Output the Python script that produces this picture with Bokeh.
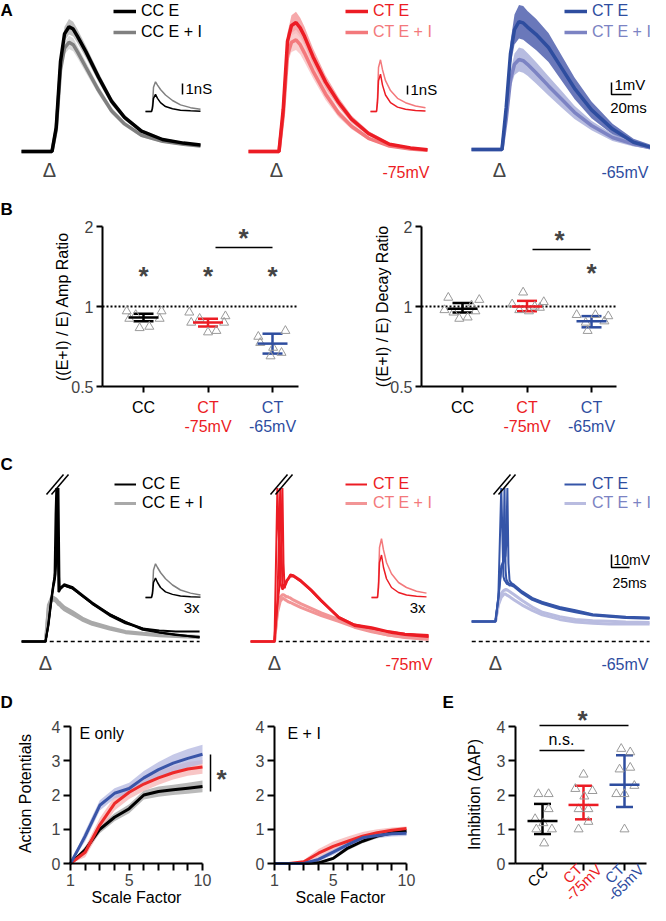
import numpy as np
from bokeh.plotting import figure
from bokeh.models import (Range1d, Label, Legend, LegendItem, Whisker, TeeHead,
                          FixedTicker, ColumnDataSource)
from bokeh.layouts import column, row
from bokeh.embed import file_html
from bokeh.resources import INLINE
from bokeh.core.properties import value

FONT = "Liberation Sans"
BLACK = "#000000"
GREY = "#808080"
RED = "#ec1c24"
LRED = "#f3797c"
BLUE = "#2e4d9f"
LBLUE = "#7c83c3"
TRI = "#9a9a9a"

# ---------------- DATA ----------------
# Panel A: averaged PSPs (ms, mV) with SEM
tA = [-28, 0, 2.5, 6.7, 11, 15, 19.5, 23.7, 28, 36.5, 49, 62, 75, 92, 113, 134, 151]
cc_e = [0, 0, 0, 2.0, 7.5, 9.8, 10.4, 10.2, 9.6, 8.3, 6.2, 4.2, 2.85, 1.7, 1.0, 0.7, 0.55]
cc_e_sem = [0, 0, 0, 0.2, 0.45, 0.6, 0.65, 0.62, 0.58, 0.5, 0.4, 0.3, 0.22, 0.16, 0.12, 0.1, 0.08]
cc_ei = [0, 0, 0, 1.8, 6.8, 8.6, 9.1, 8.9, 8.3, 7.0, 5.1, 3.4, 2.3, 1.35, 0.85, 0.6, 0.45]
cc_ei_sem = [0, 0, 0, 0.2, 0.4, 0.5, 0.55, 0.55, 0.5, 0.45, 0.35, 0.28, 0.2, 0.15, 0.12, 0.1, 0.08]
ct75_e = [0, 0, 0, 3.5, 9.2, 10.5, 10.75, 10.3, 9.6, 7.9, 5.8, 4.1, 2.7, 1.5, 0.6, 0.3, 0.15]
ct75_e_sem = [0, 0, 0, 0.35, 0.7, 0.85, 0.9, 0.85, 0.8, 0.7, 0.55, 0.42, 0.3, 0.2, 0.12, 0.08, 0.06]
ct75_ei = [0, 0, 0, 3.0, 8.0, 9.1, 9.3, 8.9, 8.2, 6.7, 4.8, 3.2, 2.1, 1.1, 0.45, 0.2, 0.1]
ct75_ei_sem = [0, 0, 0, 0.3, 0.6, 0.8, 0.85, 0.8, 0.75, 0.6, 0.5, 0.35, 0.25, 0.15, 0.1, 0.08, 0.06]
ct65_e = [0, 0, 0, 3.5, 8.0, 10.0, 10.65, 10.55, 10.2, 9.6, 8.5, 6.8, 5.1, 3.3, 1.7, 0.6, 0.2]
ct65_e_sem = [0, 0, 0, 0.4, 1.0, 1.25, 1.4, 1.4, 1.35, 1.3, 1.2, 1.05, 0.9, 0.7, 0.45, 0.3, 0.2]
ct65_ei = [0, 0, 0, 2.5, 5.8, 7.1, 7.5, 7.4, 7.1, 6.4, 5.3, 4.2, 3.1, 2.0, 1.0, 0.45, 0.2]
ct65_ei_sem = [0, 0, 0, 0.3, 0.7, 0.9, 1.0, 1.0, 0.95, 0.9, 0.8, 0.7, 0.55, 0.4, 0.3, 0.2, 0.15]

# Inset conductances (ms, nS)
t_in = [0, 6, 7, 8, 10, 12, 15, 20, 27, 35, 45, 55]
g_cc_e = [0, 0, 0.3, 1.2, 1.55, 1.2, 0.8, 0.45, 0.25, 0.12, 0.06, 0.03]
g_cc_ei = [0, 0, 0.5, 2.2, 2.7, 2.4, 2.0, 1.5, 1.0, 0.6, 0.35, 0.2]
g_ct_e = [0, 0, 0.8, 2.8, 3.4, 2.4, 1.5, 0.8, 0.4, 0.2, 0.1, 0.05]
g_ct_ei = [0, 0, 1.2, 4.0, 4.7, 3.8, 2.8, 1.9, 1.2, 0.8, 0.5, 0.35]

# Panel B: ratios
amp_cc = [0.96, 0.90, 0.83, 0.84, 0.90, 0.96, 0.93]
amp_cc_dx = [-0.26, -0.22, -0.06, 0.09, 0.25, 0.28, -0.12]
amp_ct75 = [0.95, 0.87, 0.80, 0.81, 0.87, 0.92, 0.90]
amp_ct75_dx = [-0.29, -0.26, 0.0, 0.13, 0.25, 0.27, -0.13]
amp_ct65 = [0.77, 0.73, 0.70, 0.65, 0.67, 0.81]
amp_ct65_dx = [-0.22, -0.19, 0.01, -0.03, 0.14, 0.2]
amp_mean = [0.91, 0.87, 0.725]
amp_lo = [0.88, 0.84, 0.665]
amp_hi = [0.94, 0.90, 0.79]

dec_cc = [1.08, 0.97, 0.95, 0.90, 0.91, 0.96, 1.06, 1.01]
dec_cc_dx = [-0.22, -0.28, -0.14, -0.05, 0.08, 0.2, 0.26, 0.14]
dec_ct75 = [1.13, 1.02, 0.97, 0.96, 0.99, 1.04, 1.0]
dec_ct75_dx = [-0.06, -0.23, -0.12, 0.03, 0.2, 0.26, 0.12]
dec_ct65 = [0.93, 0.87, 0.81, 0.93, 0.88, 0.92]
dec_ct65_dx = [-0.23, -0.09, -0.06, 0.06, 0.2, 0.26]
dec_mean = [0.98, 1.0, 0.88]
dec_lo = [0.95, 0.96, 0.835]
dec_hi = [1.03, 1.05, 0.92]

# Panel C: single traces (ms, mV relative to dashed line)
tC = [-33, 0, 4, 8, 11, 12.5, 14, 15, 16.5, 18, 19.5, 22, 26, 37, 51, 65, 89, 111, 135, 158, 181, 214]
cc_sp = [
    [0, 0, 13, 32, 44, 48, 98, 118, 98, 38, 39, 42, 44, 42, 36, 30, 21, 15, 9, 7, 5.4, 3],
    [0, 0, 12, 30, 42, 46, 52, 70, 118, 60, 40, 42, 43, 41, 35, 29, 20, 14, 10, 8.5, 7.7, 7.7],
    [0, 0, 14, 33, 45, 50, 56, 60, 64, 118, 40, 41, 43, 41, 35, 29, 21, 15, 10, 7, 5, 3.5],
]
cc_sub = [
    [0, 0, 28, 33.5, 34, 33.5, 33, 32.5, 31.5, 30.5, 30, 28.5, 26.5, 23, 18, 14.6, 10.8, 7.7, 6.3, 5.4, 4.6, 3.8],
    [0, 0, 26, 31, 32, 31.5, 31, 30.5, 29.5, 28.5, 28, 26.5, 24.5, 21, 16.5, 13.2, 9.5, 6.8, 5.5, 4.5, 3.8, 3.0],
]
ct75_sp = [
    [0, 0, 30, 118, 42, 43, 44, 45, 47, 48, 49, 51.5, 51, 47, 40, 32, 19, 13, 11, 8, 6, 4],
    [0, 0, 28, 48, 118, 60, 41, 43, 45, 47, 49, 51, 50.5, 46, 39, 31, 18, 12, 10, 7, 5, 3.5],
    [0, 0, 118, 45, 40, 41, 42, 44, 46, 47, 48, 50, 50, 46, 39, 31, 19, 13, 10, 7.5, 6, 5],
]
ct75_sub = [
    [0, 0, 25, 34, 36, 36, 35.5, 35, 34.5, 34.5, 34, 33.5, 32, 29, 25.5, 22, 17, 12, 8, 5, 3, 1.5],
    [0, 0, 22, 31, 33, 33, 32.5, 32, 31.5, 31, 30.5, 30, 29, 26, 23, 20, 15.5, 11, 7.5, 5, 3.5, 2.5],
]
ct65_sp = [
    [15.4, 15.4, 35, 118, 50, 47, 46, 45, 44, 44, 43, 43, 42, 37, 32, 29, 25, 22.5, 20, 19, 18, 17.5],
    [15.4, 15.4, 34, 58, 62, 118, 55, 48, 46, 45, 44.5, 44, 43, 38, 33, 30, 26, 23.5, 20.5, 19.5, 18.5, 18],
    [15.4, 15.4, 33, 55, 60, 63, 66, 75, 118, 60, 47, 45, 43.5, 38.5, 33.5, 30.5, 26.5, 24, 21, 20, 19, 18.5],
]
ct65_sub = [
    [15.4, 15.4, 30, 37, 39, 39.5, 40, 40, 39.5, 39, 38.5, 37.5, 36, 31.5, 26.5, 22.5, 19, 17, 16, 15.5, 15, 14.6],
    [15.4, 15.4, 28, 34, 36, 36.5, 36.5, 36, 35.5, 35, 34.5, 33.5, 32, 28, 24, 20.5, 17, 15, 14, 13.5, 13.5, 13.5],
]

# Panel D: action potentials vs scale factor
scale = [1, 2, 3, 4, 5, 6, 7, 8, 9, 10]
apE_cc = [0, 0.4, 1.0, 1.35, 1.6, 2.0, 2.1, 2.15, 2.2, 2.25]
apE_cc_sem = [0, 0.1, 0.12, 0.12, 0.13, 0.13, 0.15, 0.15, 0.16, 0.17]
apE_ct75 = [0, 0.33, 1.13, 1.75, 2.08, 2.32, 2.5, 2.65, 2.76, 2.82]
apE_ct75_sem = [0, 0.15, 0.2, 0.2, 0.2, 0.2, 0.2, 0.2, 0.2, 0.2]
apE_ct65 = [0, 0.8, 1.7, 2.05, 2.19, 2.5, 2.74, 2.93, 3.07, 3.19]
apE_ct65_sem = [0, 0.15, 0.15, 0.15, 0.17, 0.2, 0.22, 0.25, 0.27, 0.28]
apEI_cc = [0, 0, 0, 0.02, 0.15, 0.45, 0.65, 0.8, 0.9, 0.95]
apEI_cc_sem = [0, 0, 0, 0.02, 0.05, 0.06, 0.06, 0.06, 0.06, 0.06]
apEI_ct75 = [0, 0, 0.05, 0.3, 0.5, 0.65, 0.8, 0.9, 0.97, 1.02]
apEI_ct75_sem = [0, 0, 0.05, 0.12, 0.14, 0.14, 0.12, 0.1, 0.08, 0.06]
apEI_ct65 = [0, 0, 0, 0.12, 0.33, 0.55, 0.75, 0.82, 0.87, 0.88]
apEI_ct65_sem = [0, 0, 0, 0.06, 0.08, 0.08, 0.08, 0.08, 0.08, 0.08]

# Panel E: inhibition
inh_cc = [2.03, 2.03, 1.59, 1.30, 1.18, 1.0, 1.0, 0.59]
inh_cc_dx = [-0.10, 0.15, 0.15, -0.18, 0.02, -0.15, 0.23, 0.04]
inh_ct75 = [2.6, 2.18, 2.12, 1.96, 1.59, 1.59, 1.22, 1.0]
inh_ct75_dx = [0, -0.2, 0.22, 0.02, -0.12, 0.12, 0.12, -0.12]
inh_ct65 = [3.35, 3.25, 2.75, 2.8, 2.03, 2.03, 2.27, 1.0]
inh_ct65_dx = [-0.08, 0.14, -0.12, 0.14, -0.2, 0, 0.24, 0]
inh_mean = [1.24, 1.71, 2.30]
inh_lo = [0.86, 1.29, 1.65]
inh_hi = [1.74, 2.27, 3.16]


# ---------------- helpers ----------------
class Map:
    """Screen placement of a panel (page pixels) plus data anchors."""
    def __init__(self, box, xs, xv, xppu, ys, yv, yppu, ylog=False):
        self.box = box
        self.xs, self.xv, self.xppu = xs, xv, xppu
        self.ys, self.yv, self.yppu = ys, yv, yppu
        self.ylog = ylog

    def x(self, s):
        return self.xv + (s - self.xs) / self.xppu

    def y(self, s):
        if self.ylog:
            return self.yv * 2 ** (-(s - self.ys) / self.yppu)
        return self.yv - (s - self.ys) / self.yppu


def make_fig(m, axes=False):
    l, r, t, b = m.box
    kw = dict(width=r - l, height=b - t,
              x_range=Range1d(m.x(l), m.x(r)),
              y_range=Range1d(m.y(b), m.y(t)),
              output_backend="svg", toolbar_location=None,
              min_border_left=0, min_border_right=0,
              min_border_top=0, min_border_bottom=0,
              outline_line_color=None)
    if m.ylog:
        kw["y_axis_type"] = "log"
    if not axes:
        kw["x_axis_location"] = None
        kw["y_axis_location"] = None
    p = figure(**kw)
    p.grid.visible = False
    return p


def style_axes(p, tick_out=6):
    for ax in p.axis:
        ax.axis_line_width = 2
        ax.major_tick_line_width = 2
        ax.minor_tick_line_width = 2
        ax.major_tick_in = 0
        ax.major_tick_out = tick_out
        ax.minor_tick_in = 0
        ax.minor_tick_out = tick_out
        ax.major_label_text_font = FONT
        ax.major_label_text_font_size = "16px"
        ax.major_label_standoff = 3


def set_axes(p, m, x_at, y_at, xb, yb):
    """Place the axes inside the frame at data positions, limited to bounds."""
    p.xaxis.fixed_location = y_at
    p.yaxis.fixed_location = x_at
    p.xaxis.bounds = xb
    p.yaxis.bounds = yb


def txt(p, m, sx, sy, text, color=BLACK, size="16px", align="left",
        style="normal", angle=0, baseline="middle"):
    p.add_layout(Label(x=m.x(sx), y=m.y(sy), text=text, text_color=color,
                       text_font=FONT, text_font_size=size, text_align=align,
                       text_baseline=baseline, text_font_style=style,
                       angle=angle, angle_units="deg"))


def star(p, x, y):
    p.add_layout(Label(x=x, y=y, text="*", text_font=FONT, text_font_size="26px",
                       text_font_style="bold", text_align="center",
                       text_baseline="middle", y_offset=-7))


def add_leg(p, m, rend, text, color, sx, sy, gw=23, so=5):
    l, r, t, b = m.box
    h = 18
    leg = Legend(items=[LegendItem(label=value(text), renderers=[rend])],
                 location=(sx - l, b - (sy + h / 2)),
                 padding=0, margin=0, spacing=0, glyph_width=gw, glyph_height=h,
                 label_height=h, label_width=10, label_standoff=so,
                 label_text_font=FONT, label_text_font_size="16px",
                 label_text_color=color, border_line_color=None,
                 background_fill_alpha=0, background_fill_color=None)
    p.add_layout(leg)


def band(p, t, mean, sem, color, alpha=0.85):
    mean = np.asarray(mean, float)
    sem = np.asarray(sem, float)
    p.varea(x=t, y1=mean - sem, y2=mean + sem, fill_color=color, fill_alpha=alpha)


def inset(p, m, sx0, sy0, px_per_nS, t, g, **kw):
    t0, v0 = m.x(sx0), m.y(sy0)
    return p.line(t0 + np.asarray(t, float) / m.xppu,
                  v0 + np.asarray(g, float) * px_per_nS / m.yppu, **kw)


def seg(p, m, sx0, sy0, sx1, sy1, **kw):
    p.line([m.x(sx0), m.x(sx1)], [m.y(sy0), m.y(sy1)], **kw)


def delta(p, m, sy):
    p.add_layout(Label(x=0, y=m.y(sy), text="Δ", text_font=FONT, text_font_size="20px",
                       text_align="center", text_baseline="middle"))


# ---------------- Row A ----------------
mA1 = Map((8, 226, 8, 202), 57, 0, 1, 159, 0, 12)
mA2 = Map((226, 448, 8, 202), 284, 0, 1, 159, 0, 12)
mA3 = Map((448, 658, 8, 202), 507, 0, 1, 157, 0, 12)

pA1 = make_fig(mA1)
band(pA1, tA, cc_e, cc_e_sem, "#b4b4b4")
band(pA1, tA, cc_ei, cc_ei_sem, "#d2d2d2")
rA1b = pA1.line(tA, cc_ei, line_color=GREY, line_width=3.5)
rA1a = pA1.line(tA, cc_e, line_color=BLACK, line_width=3.5)
inset(pA1, mA1, 153, 119, 11, t_in, g_cc_ei, line_color=GREY, line_width=1.5)
inset(pA1, mA1, 153, 119, 11, t_in, g_cc_e, line_color=BLACK, line_width=1.5)
pA1.line([mA1.x(190)] * 2, [mA1.y(102), mA1.y(102) + 1 * 11 / mA1.yppu], line_color=BLACK, line_width=1.5)
txt(pA1, mA1, 193, 96, "1nS", size="15px")
add_leg(pA1, mA1, rA1a, "CC E", BLACK, 121, 19)
add_leg(pA1, mA1, rA1b, "CC E + I", BLACK, 121, 40)
delta(pA1, mA1, 177)
txt(pA1, mA1, 8, 18, "A", size="17px", style="bold")

pA2 = make_fig(mA2)
band(pA2, tA, ct75_e, ct75_e_sem, "#f59a9c")
band(pA2, tA, ct75_ei, ct75_ei_sem, "#f9c4c5")
rA2b = pA2.line(tA, ct75_ei, line_color=LRED, line_width=3.5)
rA2a = pA2.line(tA, ct75_e, line_color=RED, line_width=3.5)
inset(pA2, mA2, 378, 119, 11, t_in, g_ct_ei, line_color=LRED, line_width=1.5)
inset(pA2, mA2, 378, 119, 11, t_in, g_ct_e, line_color=RED, line_width=1.5)
pA2.line([mA2.x(415)] * 2, [mA2.y(102), mA2.y(102) + 1 * 9 / mA2.yppu], line_color=BLACK, line_width=1.5)
txt(pA2, mA2, 418, 97, "1nS", size="15px")
add_leg(pA2, mA2, rA2a, "CT E", RED, 353, 19)
add_leg(pA2, mA2, rA2b, "CT E + I", LRED, 353, 40)
delta(pA2, mA2, 177)
txt(pA2, mA2, 437, 180, "-75mV", color=RED, align="right")

pA3 = make_fig(mA3)
band(pA3, tA, ct65_e, ct65_e_sem, "#5a69b3", 0.9)
band(pA3, tA, ct65_ei, ct65_ei_sem, "#aab0da", 0.85)
rA3b = pA3.line(tA, ct65_ei, line_color=LBLUE, line_width=3.5)
rA3a = pA3.line(tA, ct65_e, line_color=BLUE, line_width=3.5)
t0, v0 = mA3.x(619), mA3.y(102)
pA3.line([t0, t0, t0 + 20], [v0 + 1, v0, v0], line_color=BLACK, line_width=1.5)
txt(pA3, mA3, 622, 92, "1mV", size="15px")
txt(pA3, mA3, 636, 115, "20ms", size="15px", align="center")
add_leg(pA3, mA3, rA3a, "CT E", BLUE, 572, 19)
add_leg(pA3, mA3, rA3b, "CT E + I", LBLUE, 572, 40)
delta(pA3, mA3, 177)
txt(pA3, mA3, 656, 180, "-65mV", color=BLUE, align="right")

# ---------------- Row B ----------------
mB1 = Map((8, 326, 202, 442), 151, 1, 64.5, 314, 1, 80, ylog=True)
mB2 = Map((326, 658, 202, 442), 470, 1, 64.5, 314, 1, 80, ylog=True)


def panel_B(m, ax_l, ax_r, ylab, ylab_x, groups, mean, lo, hi):
    p = make_fig(m, axes=True)
    style_axes(p, 6)
    xl, xr = m.x(ax_l), m.x(ax_r)
    set_axes(p, m, xl, 0.5, (xl, xr), (0.5, 2))
    p.xaxis.ticker = FixedTicker(ticks=[1, 2, 3])
    p.xaxis.major_label_text_color = None
    p.yaxis.ticker = FixedTicker(ticks=[0.5, 1, 2])
    p.yaxis.major_label_overrides = {0.5: "0.5", 1: "1", 2: "2"}
    p.line([xl, xr], [1, 1], line_color=BLACK, line_width=2, line_dash="2 2")
    for i, (vals, dx) in enumerate(groups):
        p.scatter(np.asarray(dx) + i + 1, vals, marker="triangle", size=9,
                  fill_color=None, line_color=TRI, line_width=1)
    for i, c in enumerate([BLACK, RED, BLUE]):
        src = ColumnDataSource(dict(base=[i + 1], upper=[hi[i]], lower=[lo[i]]))
        p.add_layout(Whisker(source=src, base="base", upper="upper", lower="lower",
                             dimension="height", line_color=c, line_width=2.5,
                             upper_head=TeeHead(size=20, line_color=c, line_width=2.5),
                             lower_head=TeeHead(size=20, line_color=c, line_width=2.5)))
        p.scatter([i + 1], [mean[i]], marker="dash", size=30, line_color=c, line_width=2.5)
    cx = [m.xs, m.xs + m.xppu, m.xs + 2 * m.xppu]
    txt(p, m, cx[0], 415, "CC", align="center")
    txt(p, m, cx[1], 415, "CT", color=RED, align="center")
    txt(p, m, cx[1], 434, "-75mV", color=RED, align="center")
    txt(p, m, cx[2], 415, "CT", color=BLUE, align="center")
    txt(p, m, cx[2], 434, "-65mV", color=BLUE, align="center")
    txt(p, m, ylab_x, 314, ylab, align="center", angle=90)
    return p


pB1 = panel_B(mB1, 110, 306, "((E+I) / E) Amp Ratio", 70,
              [(amp_cc, amp_cc_dx), (amp_ct75, amp_ct75_dx), (amp_ct65, amp_ct65_dx)],
              amp_mean, amp_lo, amp_hi)
for cx in [1, 2, 3]:
    star(pB1, cx, mB1.y(276))
seg(pB1, mB1, 223, 255, 280, 255, line_color=BLACK, line_width=1.5)
star(pB1, mB1.x(251), mB1.y(238))
txt(pB1, mB1, 8, 217, "B", size="17px", style="bold")

pB2 = panel_B(mB2, 429, 624, "((E+I) / E) Decay Ratio", 390,
              [(dec_cc, dec_cc_dx), (dec_ct75, dec_ct75_dx), (dec_ct65, dec_ct65_dx)],
              dec_mean, dec_lo, dec_hi)
seg(pB2, mB2, 540, 257, 598, 257, line_color=BLACK, line_width=1.5)
star(pB2, mB2.x(567), mB2.y(240))
star(pB2, 3, mB2.y(273))

# ---------------- Row C ----------------
mC1 = Map((8, 226, 442, 692), 53, 0, 0.72, 649, 0, 1.3)
mC2 = Map((226, 448, 442, 692), 282, 0, 0.72, 649, 0, 1.3)
mC3 = Map((448, 658, 442, 692), 503, 0, 0.72, 649, 0, 1.3)


def break_mark(p, m, sxc, syc=492):
    for off in (-2.5, 2.5):
        seg(p, m, sxc - 8.5 + off, syc + 10, sxc + 8.5 + off, syc - 10,
            line_color=BLACK, line_width=1.5)


def panel_C(m, sp, sub, c_sp, c_sub, leg_texts, leg_colors, leg_x, brk_x):
    p = make_fig(m)
    p.line([tC[0], tC[-1]], [0, 0], line_color=BLACK, line_width=1.3, line_dash="4 3")
    rs = [p.line(tC, v, line_color=c_sub, line_width=3) for v in sub]
    re = [p.line(tC, v, line_color=c_sp, line_width=2) for v in sp]
    break_mark(p, m, brk_x)
    add_leg(p, m, re[0], leg_texts[0], leg_colors[0], leg_x, 492, gw=22, so=6)
    add_leg(p, m, rs[0], leg_texts[1], leg_colors[1], leg_x, 511, gw=22, so=6)
    delta(p, m, 670)
    return p


pC1 = panel_C(mC1, cc_sp, cc_sub, BLACK, "#a9a9a9", ["CC E", "CC E + I"],
              [BLACK, BLACK], 122, 65)
inset(pC1, mC1, 153, 605, 12.5, t_in, g_cc_ei, line_color=GREY, line_width=1.5)
inset(pC1, mC1, 153, 605, 12.5, t_in, g_cc_e, line_color=BLACK, line_width=1.5)
txt(pC1, mC1, 207, 615, "3x", size="15px", align="right")
txt(pC1, mC1, 8, 472, "C", size="17px", style="bold")

pC2 = panel_C(mC2, ct75_sp, ct75_sub, RED, "#f29596", ["CT E", "CT E + I"],
              [RED, LRED], 353, 289)
inset(pC2, mC2, 379, 605, 12.5, t_in, g_ct_ei, line_color=LRED, line_width=1.5)
inset(pC2, mC2, 379, 605, 12.5, t_in, g_ct_e, line_color=RED, line_width=1.5)
txt(pC2, mC2, 433, 615, "3x", size="15px", align="right")
txt(pC2, mC2, 440, 672, "-75mV", color=RED, align="right")

pC3 = panel_C(mC3, ct65_sp, ct65_sub, "#3555a8", "#b9bce0", ["CT E", "CT E + I"],
              [BLUE, LBLUE], 572, 512)
t0, v0 = mC3.x(619), mC3.y(575)
pC3.line([t0, t0, t0 + 25], [v0 + 10, v0, v0], line_color=BLACK, line_width=1.5)
txt(pC3, mC3, 621, 567, "10mV", size="14px")
txt(pC3, mC3, 637, 590, "25ms", size="14px", align="center")
txt(pC3, mC3, 656, 672, "-65mV", color=BLUE, align="right")

# ---------------- Row D / E ----------------
mD1 = Map((8, 248, 692, 913), 78, 1, 132 / 9, 871, 0, 34.25)
mD2 = Map((248, 426, 692, 913), 282, 1, 132 / 9, 871, 0, 34.25)
mE = Map((426, 658, 692, 913), 550, 1, 41, 871, 0, 34.25)


def panel_D(m, series, title, title_x, xlab_x):
    p = make_fig(m, axes=True)
    style_axes(p, 7)
    set_axes(p, m, 1, 0, (1, 10), (0, 4))
    p.xaxis.ticker = FixedTicker(ticks=[1, 5, 10], minor_ticks=[2, 3, 4, 6, 7, 8, 9])
    p.yaxis.ticker = FixedTicker(ticks=[0, 1, 2, 3, 4])
    bands = ["#a3a3a3", "#f5b3b3", "#b3b7e0"]
    cols = [BLACK, "#ee2a2a", "#3a55a8"]
    for (mean, sem), bc in zip(series, bands):
        band(p, scale, mean, sem, bc, 0.75)
    for (mean, sem), c in zip(series, cols):
        p.line(scale, mean, line_color=c, line_width=3)
    txt(p, m, title_x, 741, title)
    txt(p, m, xlab_x, 905, "Scale Factor", align="center")
    return p


pD1 = panel_D(mD1, [(apE_cc, apE_cc_sem), (apE_ct75, apE_ct75_sem), (apE_ct65, apE_ct65_sem)],
              "E only", 87, 144)
txt(pD1, mD1, 33, 801, "Action Potentials", align="center", angle=90)
seg(pD1, mD1, 218, 762, 218, 799, line_color=BLACK, line_width=1.5)
star(pD1, mD1.x(229), mD1.y(779))
txt(pD1, mD1, 8, 710, "D", size="17px", style="bold")

pD2 = panel_D(mD2, [(apEI_cc, apEI_cc_sem), (apEI_ct75, apEI_ct75_sem), (apEI_ct65, apEI_ct65_sem)],
              "E + I", 295, 348)

pE = make_fig(mE, axes=True)
style_axes(pE, 7)
exl, exr = mE.x(523), mE.x(654)
set_axes(pE, mE, exl, 0, (exl, exr), (0, 4))
pE.xaxis.ticker = FixedTicker(ticks=[1, 2, 3])
pE.xaxis.major_label_text_color = None
pE.yaxis.ticker = FixedTicker(ticks=[0, 1, 2, 3, 4])
for i, (vals, dx) in enumerate([(inh_cc, inh_cc_dx), (inh_ct75, inh_ct75_dx), (inh_ct65, inh_ct65_dx)]):
    pE.scatter(np.asarray(dx) + i + 1, vals, marker="triangle", size=9,
               fill_color=None, line_color=TRI, line_width=1)
for i, c in enumerate([BLACK, RED, BLUE]):
    src = ColumnDataSource(dict(base=[i + 1], upper=[inh_hi[i]], lower=[inh_lo[i]]))
    pE.add_layout(Whisker(source=src, base="base", upper="upper", lower="lower",
                          dimension="height", line_color=c, line_width=2.5,
                          upper_head=TeeHead(size=17, line_color=c, line_width=2.5),
                          lower_head=TeeHead(size=17, line_color=c, line_width=2.5)))
    pE.scatter([i + 1], [inh_mean[i]], marker="dash", size=30, line_color=c, line_width=2.5)
seg(pE, mE, 547, 733, 636, 733, line_color=BLACK, line_width=1.5)
seg(pE, mE, 547, 758, 592, 758, line_color=BLACK, line_width=1.5)
star(pE, mE.x(590), mE.y(720))
txt(pE, mE, 569, 747, "n.s.", align="center")
txt(pE, mE, 482, 802, "Inhibition (ΔAP)", align="center", angle=90)
txt(pE, mE, 545, 884, "CC", size="15px", align="center", angle=45)
txt(pE, mE, 580, 881, "CT", size="15px", color=RED, align="center", angle=45)
txt(pE, mE, 591, 890, "-75mV", size="15px", color=RED, align="center", angle=45)
txt(pE, mE, 622, 881, "CT", size="15px", color=BLUE, align="center", angle=45)
txt(pE, mE, 633, 890, "-65mV", size="15px", color=BLUE, align="center", angle=45)
txt(pE, mE, 450, 710, "E", size="17px", style="bold")

layout = column(row(pA1, pA2, pA3), row(pB1, pB2), row(pC1, pC2, pC3), row(pD1, pD2, pE))

open("out.html", "w").write(file_html(layout, INLINE))
